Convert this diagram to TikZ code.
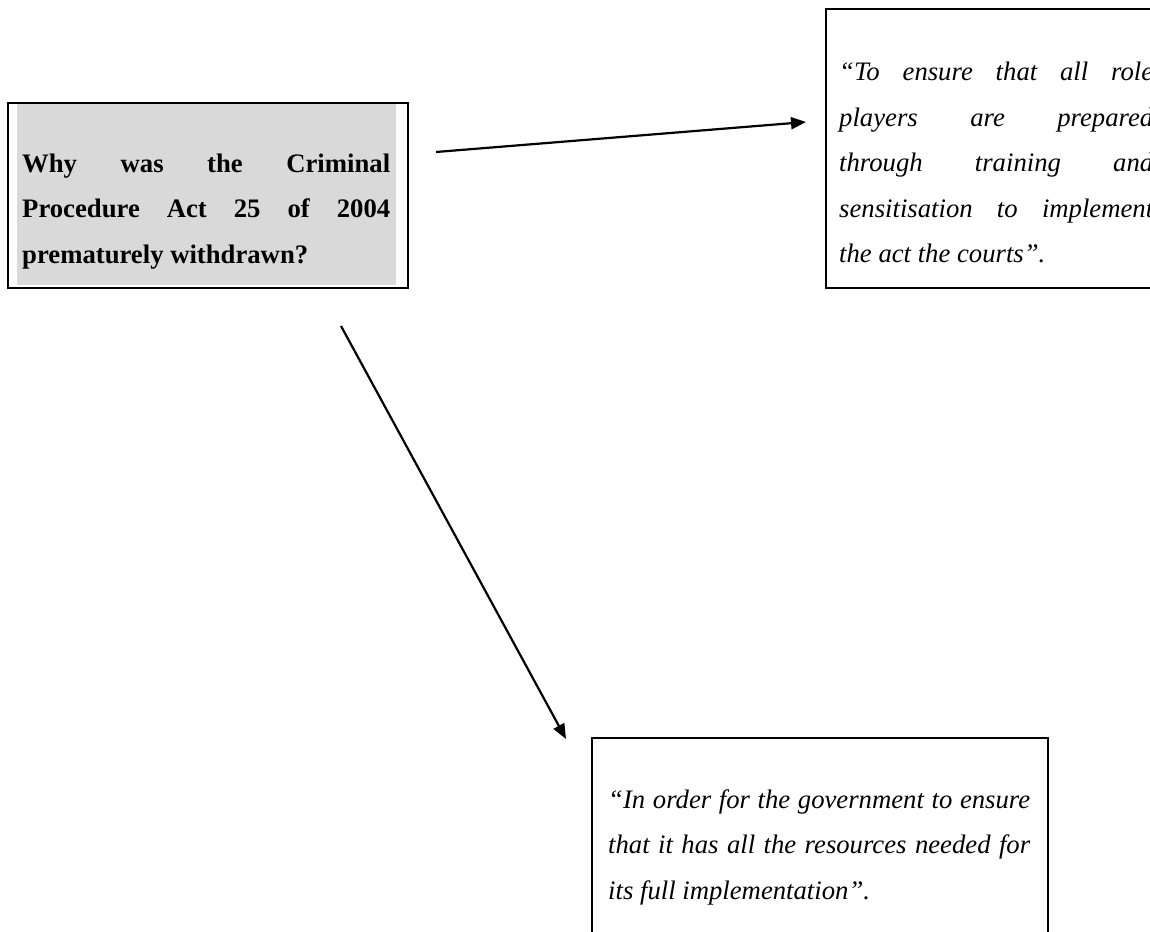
\documentclass[tikz,border=0pt]{standalone}
\usepackage{fontspec}
\setmainfont{Liberation Serif}
\usetikzlibrary{arrows.meta}
\definecolor{shade}{HTML}{D9D9D9}
\begin{document}
\begin{tikzpicture}[x=1pt,y=-1pt,
  frame/.style={draw=black, line width=2pt, inner sep=0pt, anchor=north west},
  shadebox/.style={fill=shade, draw=none, inner sep=0pt, anchor=north west},
  txt/.style={inner sep=0pt, anchor=base west, font={\fontsize{26.7pt}{45.5pt}\selectfont}},
  conn/.style={line width=2.2pt, -{Triangle[length=15pt,width=12pt]}}]
\useasboundingbox (0,0) rectangle (1150,931);
\fill[white] (0,0) rectangle (1150,931);
\clip (0,0) rectangle (1150,931);

% question box
\node[shadebox, minimum width=379pt, minimum height=182pt] (qshade) at (17,103) {};
\node[frame, minimum width=400pt, minimum height=185pt] (qbox) at (7,102) {};
\node[txt] (qtext) at (22,172) {\bfseries\vtop{%
  \hbox to 368pt{Why\hfill was\hfill the\hfill Criminal}%
  \hbox to 368pt{Procedure\hfill Act\hfill 25\hfill of\hfill 2004}%
  \hbox{prematurely withdrawn?}}};

% first answer box
\node[frame, minimum width=360pt, minimum height=279pt] (r1box) at (825,8) {};
\node[txt] (r1text) at (839,81) {\itshape\vtop{%
  \hbox to 314pt{“To\hfill ensure\hfill that\hfill all\hfill role}%
  \hbox to 314pt{players\hfill are\hfill prepared}%
  \hbox to 314pt{through\hfill training\hfill and}%
  \hbox to 314pt{sensitisation\hfill to\hfill implement}%
  \hbox{the act the courts”.}}};

% second answer box
\node[frame, minimum width=456pt, minimum height=220pt] (r2box) at (591,737) {};
\node[txt] (r2text) at (608,808) {\itshape\vtop{%
  \hbox to 422pt{“In\hfill order\hfill for\hfill the\hfill government\hfill to\hfill ensure}%
  \hbox to 422pt{that\hfill it\hfill has\hfill all\hfill the\hfill resources\hfill needed\hfill for}%
  \hbox{its full implementation”.}}};

% connectors
\coordinate (a1s) at (436,152);
\coordinate (a1e) at (806,122);
\coordinate (a2s) at (341,326);
\coordinate (a2e) at (566,739);
\draw[conn] (a1s) -- (a1e);
\draw[conn] (a2s) -- (a2e);
\end{tikzpicture}
\end{document}
